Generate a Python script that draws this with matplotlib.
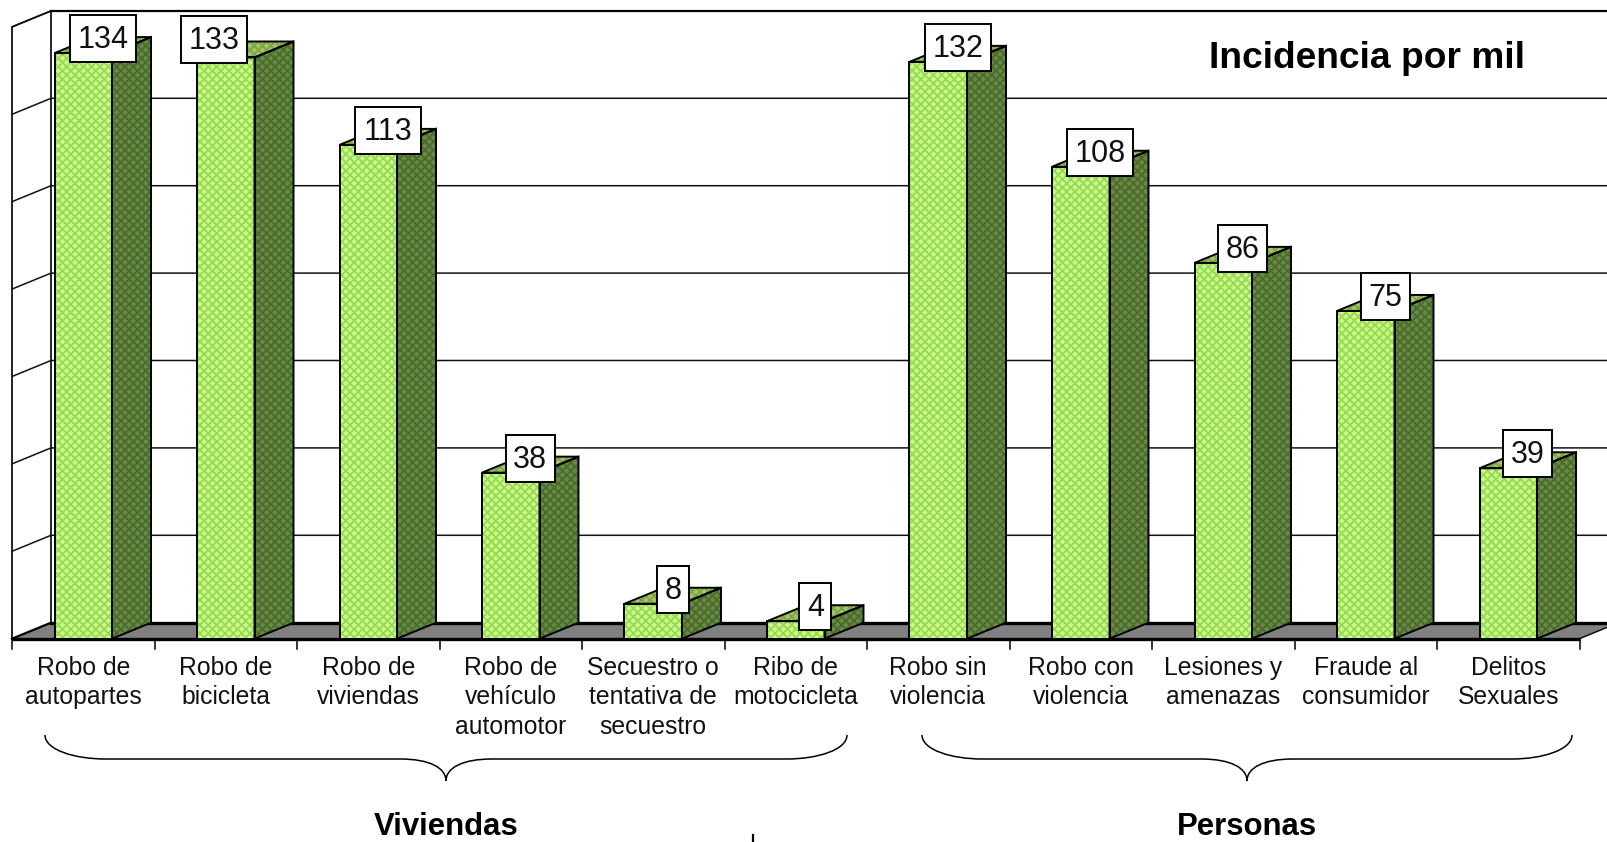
import matplotlib
matplotlib.use('Agg')
import matplotlib.pyplot as plt
from matplotlib.patches import Polygon, Rectangle, PathPatch
from matplotlib.path import Path
from matplotlib.transforms import Affine2D

plt.rcParams['font.family'] = ['Liberation Sans', 'DejaVu Sans']
plt.rcParams['hatch.linewidth'] = 1.3

#Datos
categorias = ['Robo de\nautopartes', 'Robo de\nbicicleta', 'Robo de\nviviendas',
              'Robo de\nvehículo\nautomotor', 'Secuestro o\ntentativa de\nsecuestro',
              'Ribo de\nmotocicleta', 'Robo sin\nviolencia', 'Robo con\nviolencia',
              'Lesiones y\namenazas', 'Fraude al\nconsumidor', 'Delitos\nSexuales']
valores = [134, 133, 113, 38, 8, 4, 132, 108, 86, 75, 39]
rejilla = [20, 40, 60, 80, 100, 120, 140]

#Escala: pixeles por categoria y por unidad
W, H = 1608, 842
px_cat = 142.5
px_val = 4.37
x0_px = 12
y0_px = 638.7
dx = 39 / px_cat
dy = 16 / px_val
ancho = 57.5 / px_cat
y_max = rejilla[-1]

fig = plt.figure(figsize=(W / 100, H / 100), dpi=100)
ax = fig.add_axes([0, 0, 1, 1])
ax.set_xlim(-x0_px / px_cat, (W - x0_px) / px_cat)
ax.set_ylim(-(H - y0_px) / px_val, y0_px / px_val)
ax.axis('off')

#Coordenadas en pixeles (desde arriba) para adornos
pix = Affine2D().scale(1, -1).translate(0, H)
n = len(categorias)

#Suelo y paredes
ax.add_patch(Polygon([(0, 0), (dx, dy), (n + dx, dy), (n, 0)], fc='#808080', ec='none', zorder=1))
ax.plot([dx, n + dx], [dy, dy], color='black', lw=2.4, zorder=2)
ax.plot([0, n], [0, 0], color='black', lw=2.4, zorder=2, solid_capstyle='butt')
ax.plot([n, n + dx], [0, dy], color='black', lw=1.0, zorder=2)
ax.plot([0, dx], [0, dy], color='black', lw=1.6, zorder=2)
ax.plot([0, 0, dx, dx], [0, y_max, y_max + dy, dy], color='black', lw=1.2, zorder=2)
for g in rejilla:
    ax.plot([0, dx, n + dx], [g, g + dy, g + dy], color='#111111', lw=1.1, zorder=2)
ax.plot([dx, n + dx], [y_max + dy, y_max + dy], color='black', lw=1.6, zorder=2)

#Marcas del eje
for i in range(n + 1):
    ax.plot([i, i], [0, -10 / px_val], color='black', lw=1.1, zorder=2)

#Barras
def cara(puntos, fondo, trama):
    ax.add_patch(Polygon(puntos, fc=fondo, ec=trama, hatch='xxxx', lw=0, zorder=3))
    ax.add_patch(Polygon(puntos, fc='none', ec='black', lw=1.4, zorder=4, joinstyle='miter'))

for i, v in enumerate(valores):
    a = i + 0.5 - ancho / 2
    b = i + 0.5 + ancho / 2
    cara([(a, 0), (b, 0), (b, v), (a, v)], '#c6fb92', '#9ad84c')
    cara([(b, 0), (b + dx, dy), (b + dx, v + dy), (b, v)], '#668a4a', '#4c6b26')
    cara([(a, v), (b, v), (b + dx, v + dy), (a + dx, v + dy)], '#a2c46c', '#7fa540')

#Etiquetas de valor (la de 133 esta movida a mano en el original)
movida_x = {1: -31 / px_cat}
movida_y = {1: 3 / px_val}
for i, v in enumerate(valores):
    t = str(v)
    w = (15 + 17 * len(t)) / px_cat
    h = 47 / px_val
    cx = i + 0.5 + dx / 2 + movida_x.get(i, 0)
    cy = v + dy - 1.5 / px_val + movida_y.get(i, 0)
    ax.add_patch(Rectangle((cx - w / 2, cy - h / 2), w, h, fc='white', ec='black', lw=1.4, zorder=5))
    ax.text(cx, cy - 1.5 / px_val, t, ha='center', va='center', fontsize=22, color='#111111', zorder=6)

#Categorias
for i, c in enumerate(categorias):
    ax.text(i + 0.5, -17.6 / px_val, c, ha='center', va='top', fontsize=17.8,
            linespacing=1.27, color='#111111', zorder=6)

#Llaves
def llave(x1, xm, x2):
    y1, yf, yt = 735, 759, 781
    v = [(x1, y1), (x1, y1 + 15), (x1 + 30, yf), (x1 + 60, yf),
         (xm - 46, yf),
         (xm - 16, yf), (xm, yf + 9), (xm, yt),
         (xm, yf + 9), (xm + 16, yf), (xm + 46, yf),
         (x2 - 60, yf),
         (x2 - 30, yf), (x2, y1 + 15), (x2, y1)]
    c = [Path.MOVETO, Path.CURVE4, Path.CURVE4, Path.CURVE4, Path.LINETO,
         Path.CURVE4, Path.CURVE4, Path.CURVE4, Path.CURVE4, Path.CURVE4, Path.CURVE4,
         Path.LINETO, Path.CURVE4, Path.CURVE4, Path.CURVE4]
    ax.add_patch(PathPatch(Path(v, c), fc='none', ec='black', lw=1.1, transform=pix, zorder=6))

llave(45, 446, 847)
llave(922, 1247, 1572)

ax.plot([753, 753], [835, 842], color='black', lw=1.6, transform=pix, clip_on=False)

#Textos
ax.text(1367, 59, 'Incidencia por mil', transform=pix, ha='center', va='center',
        fontsize=26.7, fontweight='bold', color='black', zorder=7)
ax.text(446, 827, 'Viviendas', transform=pix, ha='center', va='center',
        fontsize=22.4, fontweight='bold', color='black')
ax.text(1247, 827, 'Personas', transform=pix, ha='center', va='center',
        fontsize=22.4, fontweight='bold', color='black')

fig.savefig('out.png', dpi=100)
